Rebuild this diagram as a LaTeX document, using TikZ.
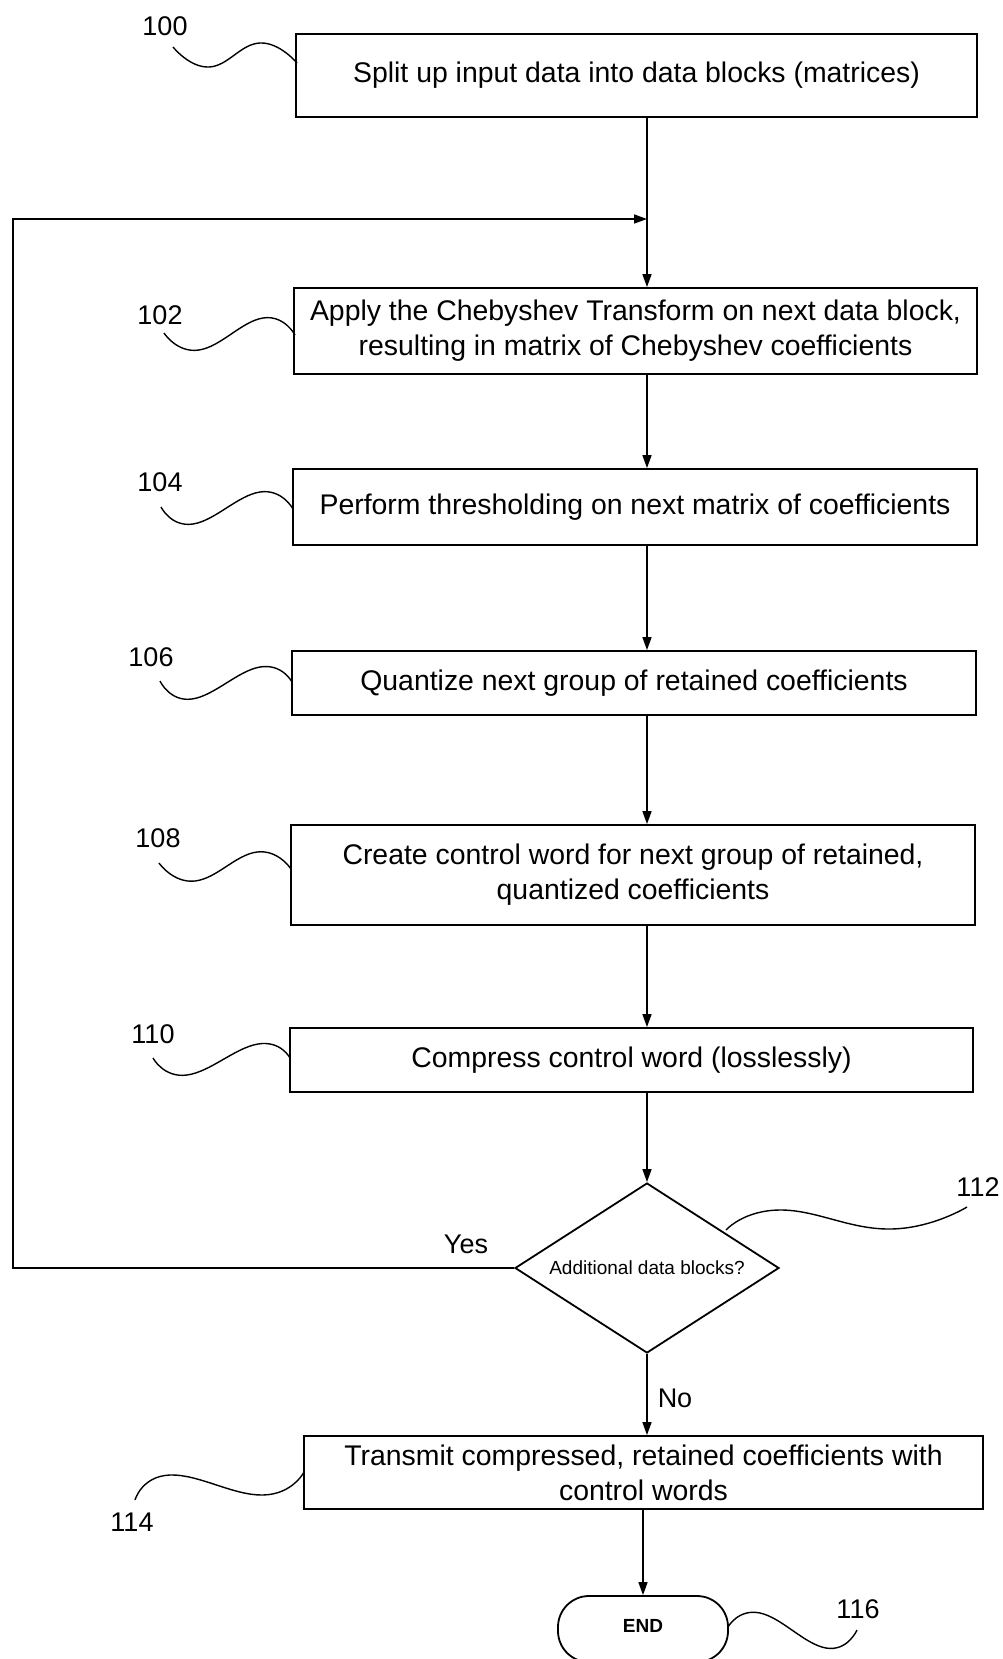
\documentclass[tikz,border=0pt]{standalone}
\usepackage{fontspec}
\setmainfont{Liberation Sans}
\usetikzlibrary{shapes.geometric,arrows.meta}
\begin{document}
\begin{tikzpicture}[x=1pt,y=-1pt,
  box/.style={draw, line width=1.8pt, rectangle, inner sep=0pt, align=center,
              font=\fontsize{28.4}{35}\selectfont},
  lbl/.style={font=\fontsize{27}{30}\selectfont, inner sep=0pt},
  conn/.style={line width=1.5pt},
  arr/.style={conn, -{Triangle[length=13pt,width=9pt]}},
  squig/.style={line width=1.4pt}]
\useasboundingbox (0,0) rectangle (1002,1659);

% boxes
\node[box, minimum width=681pt, minimum height=83pt] (b100) at (636.5,75.5)
  {Split up input data into data blocks (matrices)};
\node[box, minimum width=683pt, minimum height=86pt] (b102) at (635.5,331)
  {Apply the Chebyshev Transform on next data block,\\resulting in matrix of Chebyshev coefficients};
\node[box, minimum width=684pt, minimum height=76pt] (b104) at (635,507)
  {Perform thresholding on next matrix of coefficients};
\node[box, minimum width=684pt, minimum height=64pt] (b106) at (634,683)
  {Quantize next group of retained coefficients};
\node[box, minimum width=684pt, minimum height=100pt] (b108) at (633,875)
  {Create control word for next group of retained,\\quantized coefficients};
\node[box, minimum width=683pt, minimum height=64pt] (b110) at (631.5,1060)
  {Compress control word (losslessly)};
\node[draw, line width=1.8pt, diamond, shape aspect=1.55, minimum width=264pt,
      minimum height=170pt, inner sep=0pt, font=\fontsize{19}{22}\selectfont] (dia) at (647,1268)
  {Additional data blocks?};
\node[box, minimum width=679pt, minimum height=73pt] (b114) at (643.5,1472.5)
  {Transmit compressed, retained coefficients with\\control words};
\node[draw, line width=1.8pt, rectangle, rounded corners=31pt, minimum width=170pt,
      minimum height=66pt, inner sep=0pt, font=\fontsize{19}{22}\selectfont\bfseries]
      (end) at (643,1629) {\raisebox{7pt}{END}};

% reference labels
\node[lbl] (l100) at (165,26) {100};
\node[lbl] (l102) at (160,315) {102};
\node[lbl] (l104) at (160,482) {104};
\node[lbl] (l106) at (151,657) {106};
\node[lbl] (l108) at (158,838) {108};
\node[lbl] (l110) at (153,1034) {110};
\node[lbl] (l112) at (978,1187) {112};
\node[lbl] (l114) at (132,1522) {114};
\node[lbl] (l116) at (858,1609) {116};
\node[lbl] (yes) at (466,1244) {Yes};
\node[lbl] (no) at (675,1398) {No};

% leader squiggles
\draw[squig] plot[smooth, tension=0.8] coordinates {(173,47) (209,67) (260,43) (297,63)};
\draw[squig] plot[smooth, tension=0.8] coordinates {(164,333) (199,350) (263,318) (295,335)};
\draw[squig] plot[smooth, tension=0.8] coordinates {(161,507) (193,524) (260,492) (293,509)};
\draw[squig] plot[smooth, tension=0.8] coordinates {(160,681) (192,699) (260,667) (292,682)};
\draw[squig] plot[smooth, tension=0.8] coordinates {(159,863) (195,881) (257,852) (291,869)};
\draw[squig] plot[smooth, tension=0.8] coordinates {(153,1058) (187,1075) (258,1044) (290,1058)};
\draw[squig] plot[smooth, tension=0.8] coordinates {(726,1230) (780,1210) (891,1229) (967,1207)};
\draw[squig] plot[smooth, tension=0.8] coordinates {(135,1500) (170,1475) (263,1495) (304,1472)};
\draw[squig] plot[smooth, tension=0.8] coordinates {(728,1627) (760,1613) (826,1648) (857,1630)};

% connectors
\coordinate (merge) at (647,219);
\coordinate (loopc) at (13,219);
\draw[arr] (b100.south -| merge) -- (b102.north -| merge);
\draw[arr] (dia.west) -| (loopc) -- (merge);
\draw[arr] (b102.south -| merge) -- (b104.north -| merge);
\draw[arr] (b104.south -| merge) -- (b106.north -| merge);
\draw[arr] (b106.south -| merge) -- (b108.north -| merge);
\draw[arr] (b108.south -| merge) -- (b110.north -| merge);
\draw[arr] (b110.south -| merge) -- (dia.north);
\draw[arr] (dia.south) -- (b114.north -| dia.south);
\draw[arr] (b114.south -| end.north) -- (end.north);
\end{tikzpicture}
\end{document}
